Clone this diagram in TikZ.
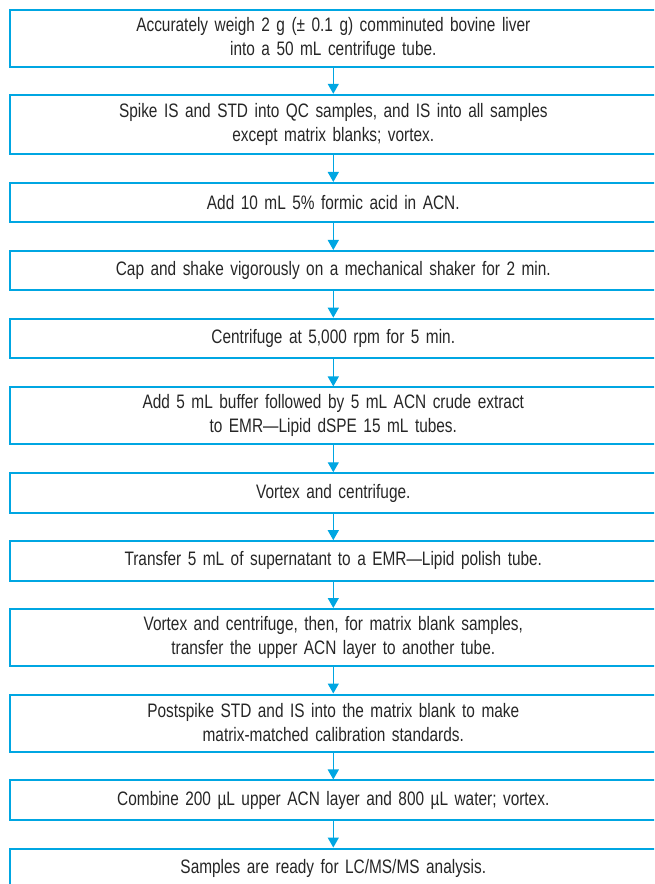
\documentclass[tikz,border=0pt]{standalone}
\usepackage{fontspec}
\setmainfont{Liberation Sans}[FakeStretch=0.79,WordSpace=0.8]
\usetikzlibrary{arrows.meta}
\definecolor{agblue}{RGB}{0,166,226}
\tikzstyle{stage} = [draw=agblue,line width=2pt,minimum width=647.5pt,minimum height=39.5pt,inner sep=0pt,text width=640pt,align=center,text=black!85,font=\fontsize{19.5}{24}\selectfont]
\tikzstyle{stagetwo} = [stage,minimum height=57pt]
\tikzstyle{every edge} = [draw=agblue,line width=1.4pt,-{Triangle[length=10pt,width=11pt]}]

\begin{document}
\begin{tikzpicture}[x=1pt,y=-1pt]

\clip (0,0) rectangle (654,884);

\node[stagetwo] (s1) at (333.3,38.5) {Accurately weigh 2 g (± 0.1 g) comminuted bovine liver\\into a 50 mL centrifuge tube.};
\node[stagetwo,minimum height=59pt] (s2) at (333.3,124.3) {Spike IS and STD into QC samples, and IS into all samples\\except matrix blanks; vortex.};
\node[stage] (s3) at (333.3,202.7) {Add 10 mL 5\% formic acid in ACN.};
\node[stage] (s4) at (333.3,270.7) {Cap and shake vigorously on a mechanical shaker for 2 min.};
\node[stage] (s5) at (333.3,338.4) {Centrifuge at 5,000 rpm for 5 min.};
\node[stagetwo] (s6) at (333.3,415.9) {Add 5 mL buffer followed by 5 mL ACN crude extract\\to EMR—Lipid dSPE 15 mL tubes.};
\node[stage] (s7) at (333.3,493) {Vortex and centrifuge.};
\node[stage] (s8) at (333.3,560.9) {Transfer 5 mL of supernatant to a EMR—Lipid polish tube.};
\node[stagetwo] (s9) at (333.3,637.5) {Vortex and centrifuge, then, for matrix blank samples,\\transfer the upper ACN layer to another tube.};
\node[stagetwo] (s10) at (333.3,723) {Postspike STD and IS into the matrix blank to make\\matrix-matched calibration standards.};
\node[stage] (s11) at (333.3,800.2) {Combine 200 µL upper ACN layer and 800 µL water; vortex.};
\node[stage] (s12) at (333.3,868.3) {Samples are ready for LC/MS/MS analysis.};

\draw (s1) edge (s2);
\draw (s2) edge (s3);
\draw (s3) edge (s4);
\draw (s4) edge (s5);
\draw (s5) edge (s6);
\draw (s6) edge (s7);
\draw (s7) edge (s8);
\draw (s8) edge (s9);
\draw (s9) edge (s10);
\draw (s10) edge (s11);
\draw (s11) edge (s12);

\end{tikzpicture}
\end{document}
